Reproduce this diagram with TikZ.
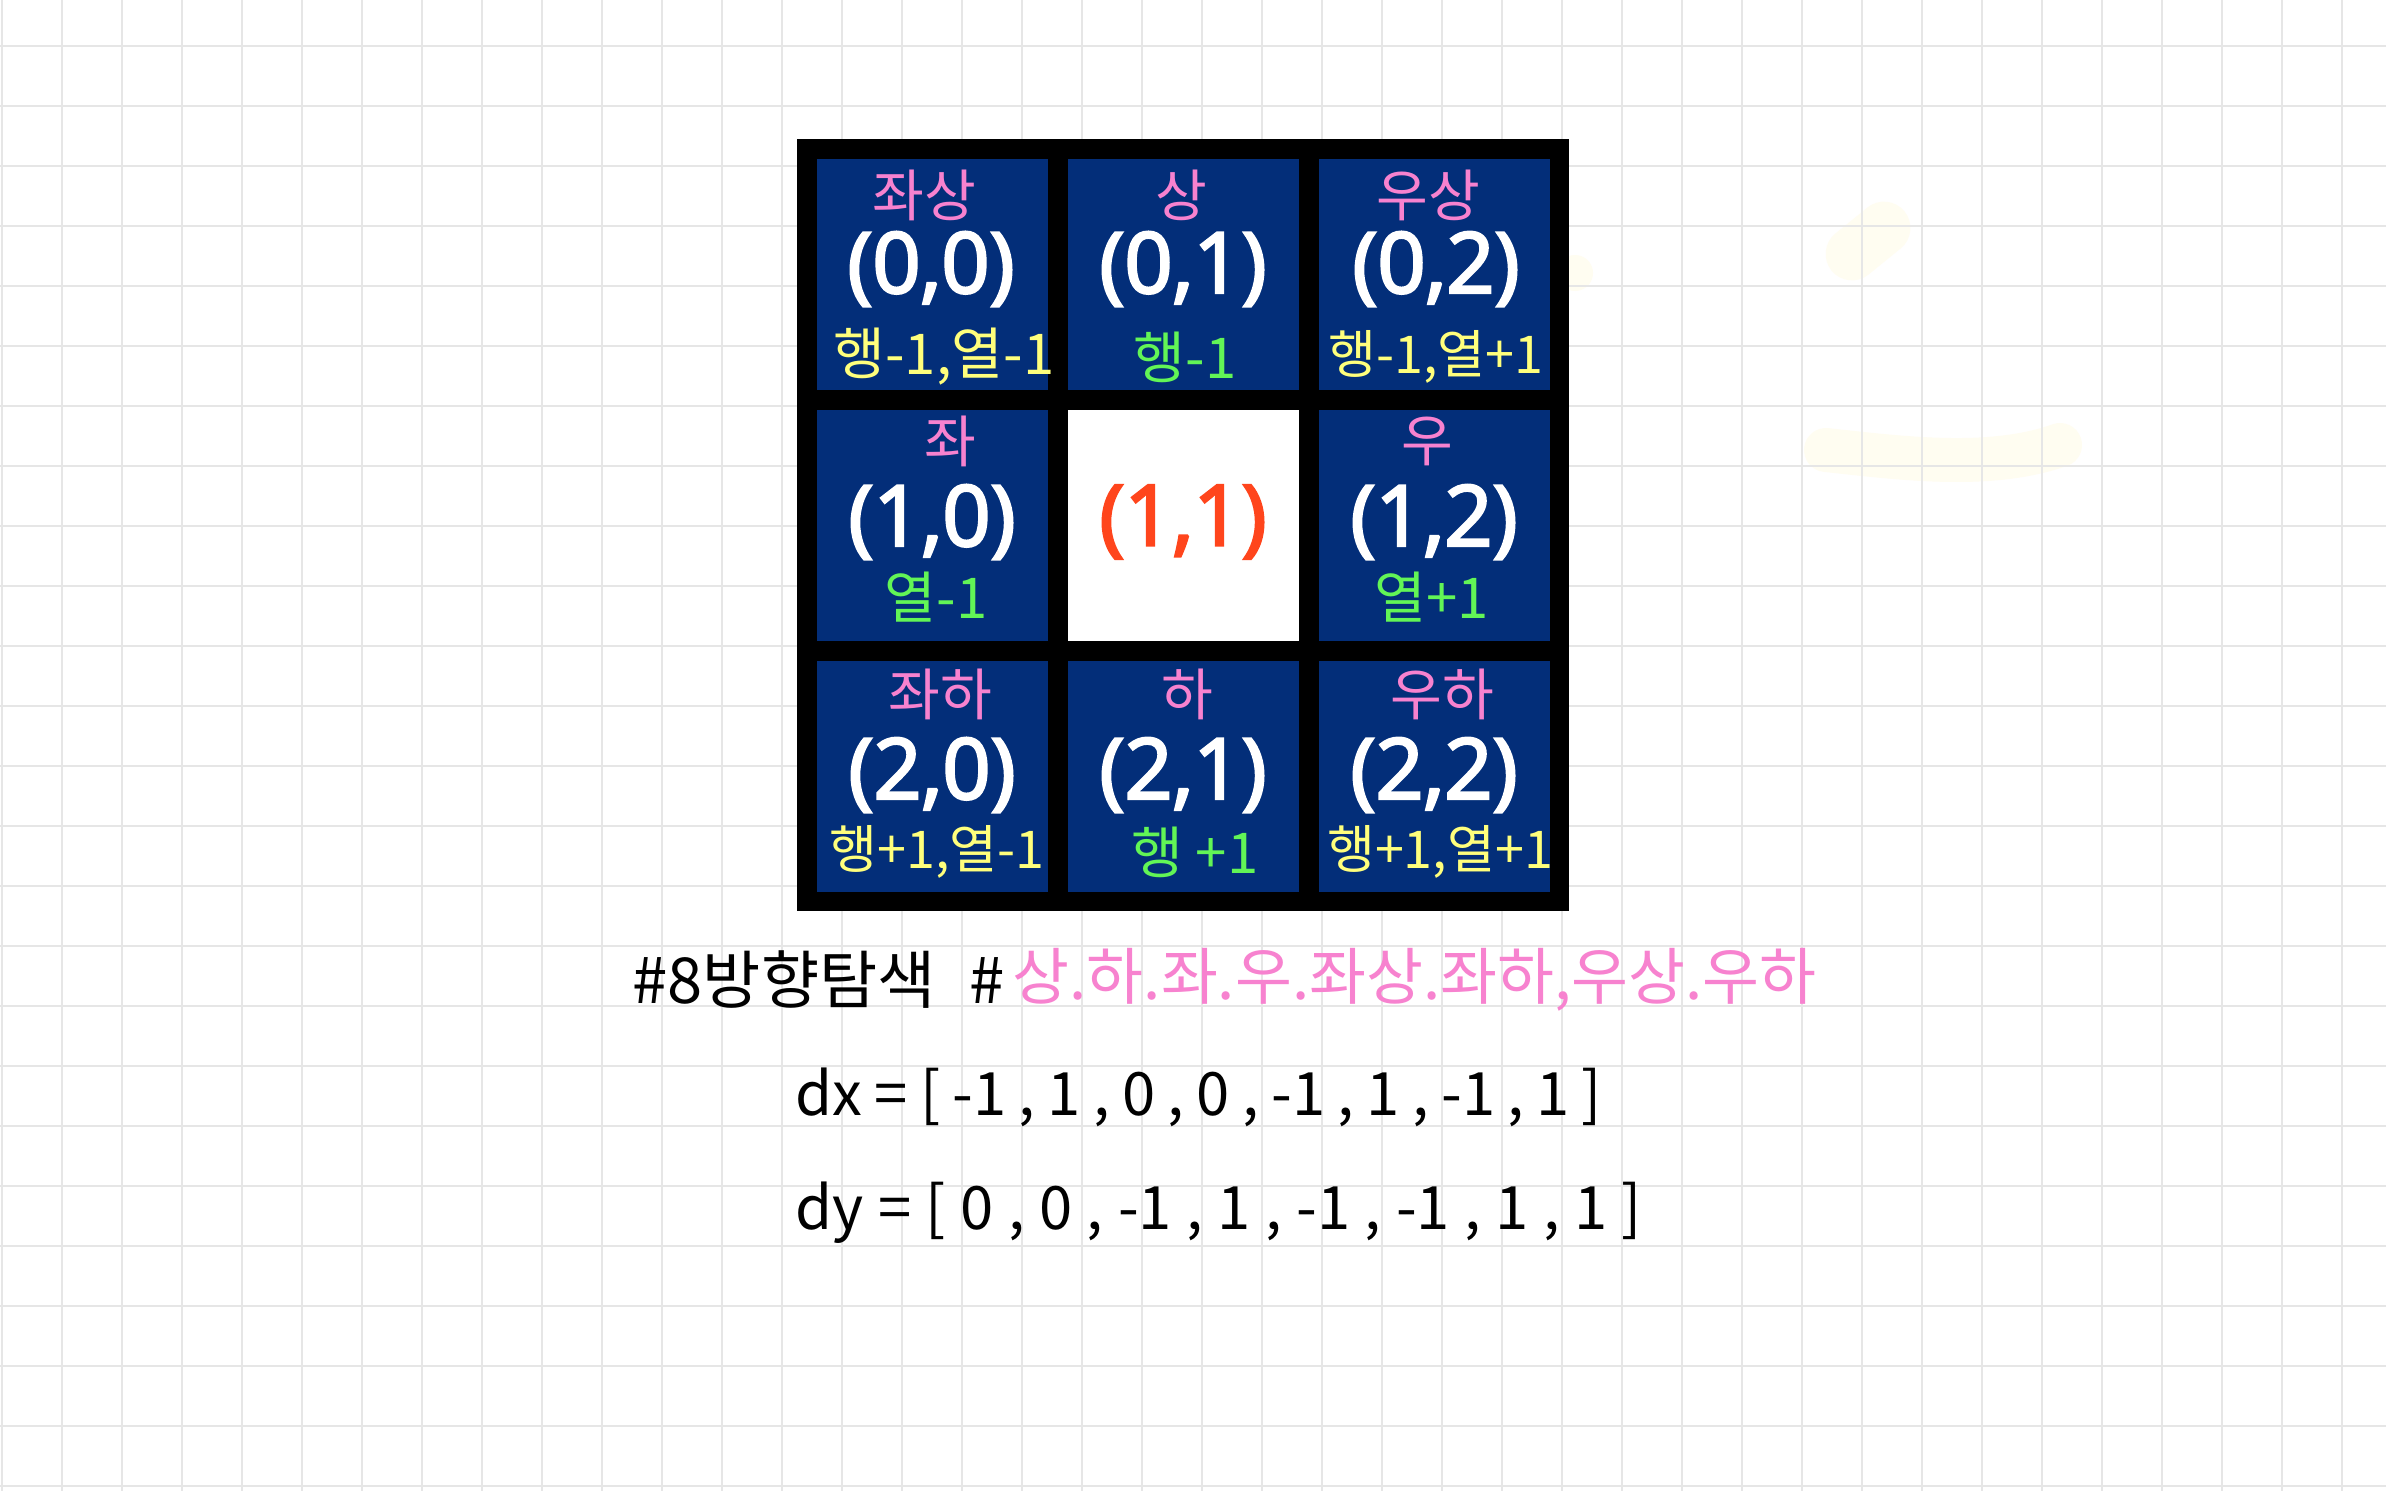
\documentclass[tikz,border=0pt]{standalone}
\usepackage{fontspec}
\newfontfamily\kr{Noto Sans CJK KR}
\newfontfamily\coordf{Open Sans}[FakeBold=3]
\definecolor{gridc}{HTML}{E6E6E6}
\definecolor{navy}{HTML}{032E79}
\definecolor{pinkc}{HTML}{F782CF}
\definecolor{yelc}{HTML}{FFFF7C}
\definecolor{grnc}{HTML}{62F556}
\definecolor{redc}{HTML}{FF451C}
\definecolor{blobc}{HTML}{FFFDF1}
\begin{document}
\begin{tikzpicture}[x=0.01cm,y=-0.01cm,
  cellbox/.style={fill=navy,draw=none,minimum width=2.31cm,minimum height=2.31cm,inner sep=0pt,outer sep=0pt},
  whitebox/.style={cellbox,fill=white},
  dirlbl/.style={text=pinkc,font=\kr\fontsize{16pt}{18pt}\selectfont,inner sep=0pt},
  coordlbl/.style={text=white,font=\coordf\fontsize{24pt}{27pt}\selectfont,inner sep=0pt},
  centerlbl/.style={text=redc,font=\coordf\fontsize{24pt}{27pt}\selectfont,inner sep=0pt},
  ylbl/.style={text=yelc,font=\kr\fontsize{14.8pt}{17pt}\selectfont,inner sep=0pt},
  glbl/.style={text=grnc,font=\kr\fontsize{16pt}{18pt}\selectfont,inner sep=0pt},
  codelbl/.style={text=black,font=\kr\fontsize{17pt}{19pt}\selectfont,inner sep=0pt,anchor=west}
]
\useasboundingbox (0,0) rectangle (2386,1491);
\fill[white] (0,0) rectangle (2386,1491);
% faint highlighter marks
\draw[blobc,line width=15pt,line cap=round] (1852,254) -- (1884,228);
\draw[blobc,line width=12.5pt,line cap=round] (1826,450) .. controls (1900,458) and (1990,470) .. (2060,445);
\fill[blobc] (1575,273) circle (18);
% grid paper
\foreach \i in {0,...,39} \draw[gridc,line width=0.6pt] (2+60*\i,0) -- (2+60*\i,1491);
\foreach \j in {0,...,24} \draw[gridc,line width=0.6pt] (0,46+60*\j) -- (2386,46+60*\j);
% black frame
\fill[black] (797,139) rectangle (1569,911);
% cells
\node[cellbox] (c00) at (932.5,274.5) {};
\node[cellbox] (c01) at (1183.5,274.5) {};
\node[cellbox] (c02) at (1434.5,274.5) {};
\node[cellbox] (c10) at (932.5,525.5) {};
\node[whitebox] (c11) at (1183.5,525.5) {};
\node[cellbox] (c12) at (1434.5,525.5) {};
\node[cellbox] (c20) at (932.5,776.5) {};
\node[cellbox] (c21) at (1183.5,776.5) {};
\node[cellbox] (c22) at (1434.5,776.5) {};
% row 0
\node[dirlbl] (d00) at (924,195) {좌상};
\node[dirlbl] (d01) at (1181,195) {상};
\node[dirlbl] (d02) at (1428,195) {우상};
\node[coordlbl] (t00) at (931,269) {(0,0)};
\node[coordlbl] (t01) at (1183,269) {(0,1)};
\node[coordlbl] (t02) at (1436,269) {(0,2)};
\node[ylbl,font=\kr\fontsize{16pt}{18pt}\selectfont] (o00) at (944,357) {행-1,열-1};
\node[glbl] (o01) at (1185,357) {행-1};
\node[ylbl] (o02) at (1436,357) {행-1,열+1};
% row 1
\node[dirlbl] (d10) at (950,441) {좌};
\node[dirlbl] (d12) at (1427,441) {우};
\node[coordlbl] (t10) at (932,522) {(1,0)};
\node[centerlbl] (t11) at (1183,522) {(1,1)};
\node[coordlbl] (t12) at (1434,522) {(1,2)};
\node[glbl] (o10) at (936,597) {열-1};
\node[glbl] (o12) at (1432,597) {열+1};
% row 2
\node[dirlbl] (d20) at (940,694) {좌하};
\node[dirlbl] (d21) at (1187,694) {하};
\node[dirlbl] (d22) at (1442,694) {우하};
\node[coordlbl] (t20) at (932,775) {(2,0)};
\node[coordlbl] (t21) at (1183,775) {(2,1)};
\node[coordlbl] (t22) at (1434,775) {(2,2)};
\node[ylbl] (o20) at (937,852) {행+1,열-1};
\node[glbl] (o21) at (1195,852) {행 +1};
\node[ylbl] (o22) at (1440,852) {행+1,열+1};
% code text
\node[codelbl,font=\kr\fontsize{18pt}{20pt}\selectfont] (line1a) at (632,980) {\makebox[3.72cm][s]{\#8방향탐색 \#}};
\node[codelbl,font=\kr\fontsize{17.6pt}{20pt}\selectfont,text=pinkc] (line1b) at (1012,980) {상.하.좌.우.좌상.좌하,우상.우하};
\node[codelbl] (line2) at (795,1097) {\makebox[8.06cm][s]{dx = [ -1 , 1 , 0 , 0 , -1 , 1 , -1 , 1 ]}};
\node[codelbl] (line3) at (795,1213) {\makebox[8.46cm][s]{dy = [ 0 , 0 , -1 , 1 , -1 , -1 , 1 , 1 ]}};
\end{tikzpicture}
\end{document}
